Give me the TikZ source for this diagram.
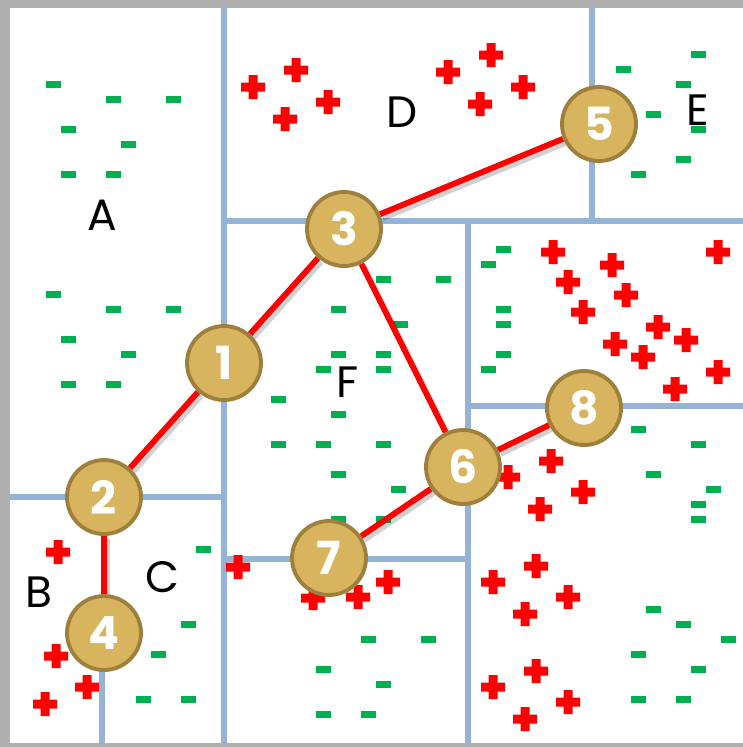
\documentclass[tikz,border=0pt]{standalone}
\usepackage{fontspec}
\usetikzlibrary{backgrounds}
\newfontfamily\gothic{Poppins}
\definecolor{verde}{HTML}{00B050}
\definecolor{rosso}{HTML}{FF0000}
\definecolor{azzurro}{HTML}{95B3D7}
\definecolor{oro}{HTML}{D9B45F}
\definecolor{bordo}{HTML}{9E7F3C}
\begin{document}
\begin{tikzpicture}[x=0.02cm,y=-0.02cm,
		confine/.style={draw=azzurro, line width=3pt},
		meno/.style={fill=verde},
		piu/.style={fill=rosso},
		vertice/.style={circle, fill=oro, draw=bordo, line width=2.2pt, minimum size=1.48cm, inner sep=0pt, text=white, font=\gothic\bfseries\fontsize{26}{26}\selectfont},
		arco/.style={rosso, line width=3.3pt, preaction={draw=black, opacity=0.18, line width=3.8pt, transform canvas={shift={(1.5pt,-2pt)}}}},
		regione/.style={font=\gothic\fontsize{25}{25}\selectfont}]
		\useasboundingbox (0,0) rectangle (743,747);
		
		%VERTICI
		\node[vertice] (n1) at (224,363) {1};
		\node[vertice] (n2) at (104,497) {2};
		\node[vertice] (n3) at (344,229) {3};
		\node[vertice] (n4) at (104,633) {4};
		\node[vertice] (n5) at (599,124) {5};
		\node[vertice] (n6) at (463,467) {6};
		\node[vertice] (n7) at (329,558) {7};
		\node[vertice] (n8) at (584,408) {8};
		
		%NOMI DELLE REGIONI
		\node[regione] (rA) at (102,215) {A};
		\node[regione] (rB) at (39,592) {B};
		\node[regione] (rC) at (162,577) {C};
		\node[regione] (rD) at (402,112) {D};
		\node[regione] (rE) at (698,110) {E};
		\node[regione] (rF) at (348,382) {F};
		
		\begin{pgfonlayer}{background}
		%CORNICE
		\fill[gray!62] (0,0) rectangle (743,747);
		\fill[white] (10,8) rectangle (743,743);
		
		%CONFINI
		\draw[confine] (224,8) -- (224,743);
		\draw[confine] (10,497) -- (224,497);
		\draw[confine] (102,633) -- (102,743);
		\draw[confine] (224,221) -- (743,221);
		\draw[confine] (592,8) -- (592,221);
		\draw[confine] (468,221) -- (468,743);
		\draw[confine] (468,406) -- (743,406);
		\draw[confine] (224,559) -- (468,559);
		
		%CARICHE NEGATIVE
		\foreach \x/\y in {53/84,113/99,173/99,68/129,128/144,68/174,113/174,
			53/294,113/309,173/309,68/339,128/354,68/384,113/384,
			623/69,698/54,683/84,653/114,698/129,683/159,638/174,
			203/549,188/624,158/654,143/699,188/699,
			383/279,443/279,338/309,400/324,338/354,383/354,323/369,383/369,
			278/399,338/414,278/444,323/444,383/444,338/474,398/489,338/519,383/519,
			368/639,428/639,323/669,383/684,323/714,368/714,
			503/249,488/264,503/309,503/324,503/354,488/369,
			638/429,698/444,653/474,713/489,698/504,698/519,653/609,683/624,
			728/639,638/654,698/669,638/699,683/699}
			\fill[meno] (\x-7.5,\y-3.5) rectangle (\x+7.5,\y+3.5);
		
		%CARICHE POSITIVE
		\foreach \x/\y in {253/87,296/70,285/119,328/102,448/72,491/55,480/104,523/87,
			58/552,56/656,87/687,45/704,238/567,313/598,358/597,388/582,
			553/252,612/265,568/282,626/295,583/312,658/327,615/344,686/340,
			643/357,718/252,718/372,675/389,
			508/477,551/461,583/492,540/509,536/566,493/582,568/597,525/614,
			536/671,493/687,568/702,525/719}
			\fill[piu] (\x-12,\y-4.5) rectangle (\x+12,\y+4.5) (\x-4.5,\y-12) rectangle (\x+4.5,\y+12);
		
		%ARCHI
		\draw[arco] (n2) -- (n1);
		\draw[arco] (n1) -- (n3);
		\draw[arco] (n3) -- (n5);
		\draw[arco] (n3) -- (n6);
		\draw[arco] (n6) -- (n8);
		\draw[arco] (n7) -- (n6);
		\draw[arco] (n2) -- (n4);
		\end{pgfonlayer}
	\end{tikzpicture}
\end{document}
